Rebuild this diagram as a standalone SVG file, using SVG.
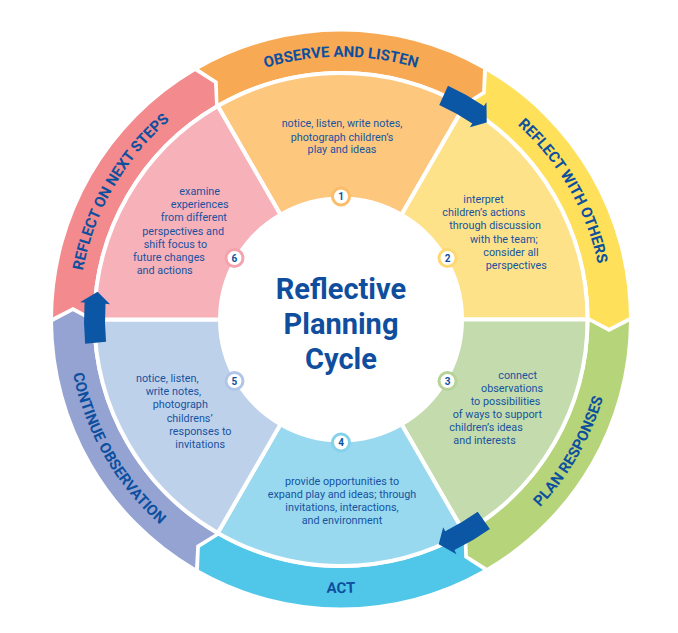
<svg xmlns="http://www.w3.org/2000/svg" width="678" height="633" viewBox="0 0 678 633">
<style>
.seg{stroke:#fff;stroke-width:4;stroke-linejoin:miter}
.band{stroke:none}
.lbl{font-family:Roboto,"Liberation Sans",sans-serif;font-weight:700;font-size:15px;fill:#0d4f9f}
.txt{font-family:Roboto,"Liberation Sans",sans-serif;font-size:10.8px;fill:#17539f}
.mid{text-anchor:middle}
.badge{fill:#fff;stroke-width:3}
.num{font-family:Roboto,"Liberation Sans",sans-serif;font-weight:700;font-size:10px;fill:#0d4f9f;text-anchor:middle}
.title{font-family:Roboto,"Liberation Sans",sans-serif;font-weight:700;font-size:29px;fill:#0f4e9e;text-anchor:middle}
.arrow{fill:#0b57a5}
</style>
<defs>
<path id="pOrange" d="M209.6,91.91 A262.8,262.8 0 0 1 472.4,91.91"/>
<path id="pYellow" d="M472.4,91.91 A262.8,262.8 0 0 1 603.8,319.5"/>
<path id="pPink" d="M78.2,319.5 A262.8,262.8 0 0 1 209.6,91.91"/>
<path id="pCyan" d="M204.25,556.36 A273.5,273.5 0 0 0 477.75,556.36"/>
<path id="pGreen" d="M477.75,556.36 A273.5,273.5 0 0 0 614.5,319.5"/>
<path id="pPurple" d="M67.5,319.5 A273.5,273.5 0 0 0 204.25,556.36"/>
<path id="arrowShape" d="M255.86,-24.19 A257,257 0 0 1 256.44,17.04 L260.93,17.33 L243.42,27.73 L230.99,15.34 L235.48,15.64 A236,236 0 0 0 234.95,-22.2 Z"/>
</defs>
<rect width="678" height="633" fill="#fff"/>

<g id="stage-1">
<path class="band" fill="#f8a953" d="M198.96,68.96 A288,288 0 0 1 483.04,68.96 L482.16,91.39 L463.56,103.32 A248.5,248.5 0 0 0 218.44,103.32 L217.76,81.24 Z"/>
<text class="lbl"><textPath href="#pOrange" startOffset="50%" text-anchor="middle">OBSERVE AND LISTEN</textPath></text>
<path class="seg" fill="#fdc77e" d="M217.75,106.02 A246.5,246.5 0 0 1 464.25,106.02 L401.5,214.71 A121,121 0 0 0 280.5,214.71 Z"/>
<text class="txt mid"><tspan x="342" y="127.3">notice, listen, write notes,</tspan><tspan x="342" y="140.7">photograph children’s</tspan><tspan x="342" y="153.3">play and ideas</tspan></text>
<circle class="badge" cx="341" cy="196.5" r="8.5" stroke="#fbbd6a"/>
<text class="num" x="341" y="200">1</text>
</g>

<g id="stage-2">
<path class="band" fill="#fee05b" d="M486.95,71.22 A288,288 0 0 1 628.99,317.24 L609.13,327.69 L589.49,317.55 A248.5,248.5 0 0 0 466.94,105.27 L485.72,93.64 Z"/>
<text class="lbl"><textPath href="#pYellow" startOffset="50%" text-anchor="middle">REFLECT WITH OTHERS</textPath></text>
<path class="seg" fill="#fee28a" d="M464.25,106.02 A246.5,246.5 0 0 1 587.5,319.5 L462,319.5 A121,121 0 0 0 401.5,214.71 Z"/>
<text class="txt"><tspan x="463.3" y="203">interpret</tspan><tspan x="442.3" y="216.2">children’s actions</tspan><tspan x="449.3" y="229.4">through discussion</tspan><tspan x="470" y="242.6">with the team;</tspan><tspan x="483.3" y="255.8">consider all</tspan><tspan x="485.7" y="269">perspectives</tspan></text>
<circle class="badge" cx="447.52" cy="258" r="8.5" stroke="#fed873"/>
<text class="num" x="447.52" y="261.5">2</text>
</g>

<g id="stage-3">
<path class="band" fill="#b6d47a" d="M628.99,321.76 A288,288 0 0 1 486.95,567.78 L467.97,555.8 L466.94,533.73 A248.5,248.5 0 0 0 589.49,321.45 L608.96,331.9 Z"/>
<text class="lbl"><textPath href="#pGreen" startOffset="50%" text-anchor="middle">PLAN RESPONSES</textPath></text>
<path class="seg" fill="#c4dbad" d="M587.5,319.5 A246.5,246.5 0 0 1 464.25,532.98 L401.5,424.29 A121,121 0 0 0 462,319.5 Z"/>
<text class="txt"><tspan x="498.3" y="379">connect</tspan><tspan x="481" y="392">observations</tspan><tspan x="470.7" y="405">to possibilities</tspan><tspan x="452.7" y="418">of ways to support</tspan><tspan x="449.3" y="431">children’s ideas</tspan><tspan x="453.3" y="444">and interests</tspan></text>
<circle class="badge" cx="447.52" cy="381" r="8.5" stroke="#b7d399"/>
<text class="num" x="447.52" y="384.5">3</text>
</g>

<g id="stage-4">
<path class="band" fill="#50c7e9" d="M483.04,570.04 A288,288 0 0 1 198.96,570.04 L199.84,547.61 L218.44,535.68 A248.5,248.5 0 0 0 463.56,535.68 L464.24,557.76 Z"/>
<text class="lbl"><textPath href="#pCyan" startOffset="50%" text-anchor="middle">ACT</textPath></text>
<path class="seg" fill="#98d9ef" d="M464.25,532.98 A246.5,246.5 0 0 1 217.75,532.98 L280.5,424.29 A121,121 0 0 0 401.5,424.29 Z"/>
<text class="txt mid"><tspan x="342" y="484.5">provide opportunities to</tspan><tspan x="342" y="497.5">expand play and ideas; through</tspan><tspan x="342" y="510.5">invitations, interactions,</tspan><tspan x="342" y="523.5">and environment</tspan></text>
<circle class="badge" cx="341" cy="442.5" r="8.5" stroke="#86d1ec"/>
<text class="num" x="341" y="446">4</text>
</g>

<g id="stage-5">
<path class="band" fill="#95a3d2" d="M195.05,567.78 A288,288 0 0 1 53.01,321.76 L72.87,311.31 L92.51,321.45 A248.5,248.5 0 0 0 215.06,533.73 L196.28,545.36 Z"/>
<text class="lbl"><textPath href="#pPurple" startOffset="50%" text-anchor="middle">CONTINUE OBSERVATION</textPath></text>
<path class="seg" fill="#bed1eb" d="M217.75,532.98 A246.5,246.5 0 0 1 94.5,319.5 L220,319.5 A121,121 0 0 0 280.5,424.29 Z"/>
<text class="txt"><tspan x="136" y="382">notice, listen,</tspan><tspan x="145.7" y="395.2">write notes,</tspan><tspan x="152.7" y="408.4">photograph</tspan><tspan x="166.7" y="421.6">childrens’</tspan><tspan x="169.3" y="434.8">responses to</tspan><tspan x="175.3" y="448">invitations</tspan></text>
<circle class="badge" cx="234.48" cy="381" r="8.5" stroke="#b0c6e6"/>
<text class="num" x="234.48" y="384.5">5</text>
</g>

<g id="stage-6">
<path class="band" fill="#f38a8e" d="M53.01,317.24 A288,288 0 0 1 195.05,71.22 L214.03,83.2 L215.06,105.27 A248.5,248.5 0 0 0 92.51,317.55 L73.04,307.1 Z"/>
<text class="lbl"><textPath href="#pPink" startOffset="50%" text-anchor="middle">REFLECT ON NEXT STEPS</textPath></text>
<path class="seg" fill="#f6b1b9" d="M94.5,319.5 A246.5,246.5 0 0 1 217.75,106.02 L280.5,214.71 A121,121 0 0 0 220,319.5 Z"/>
<text class="txt"><tspan x="179.3" y="195">examine</tspan><tspan x="170.7" y="208.2">experiences</tspan><tspan x="160.7" y="221.4">from different</tspan><tspan x="142.3" y="234.6">perspectives and</tspan><tspan x="143.7" y="247.8">shift focus to</tspan><tspan x="133" y="261">future changes</tspan><tspan x="136.7" y="274.2">and actions</tspan></text>
<circle class="badge" cx="234.48" cy="258" r="8.5" stroke="#f4a3ad"/>
<text class="num" x="234.48" y="261.5">6</text>
</g>

<g id="center-title">
<text class="title"><tspan x="341" y="298.5">Reflective</tspan><tspan x="341" y="334">Planning</tspan><tspan x="341" y="368.5">Cycle</tspan></text>
</g>

<g id="connectors">
<use href="#arrowShape" class="arrow" transform="translate(341,319.5) rotate(-60)"/>
<use href="#arrowShape" class="arrow" transform="translate(341,319.5) rotate(60)"/>
<use href="#arrowShape" class="arrow" transform="translate(341,319.5) rotate(180)"/>
</g>
</svg>
